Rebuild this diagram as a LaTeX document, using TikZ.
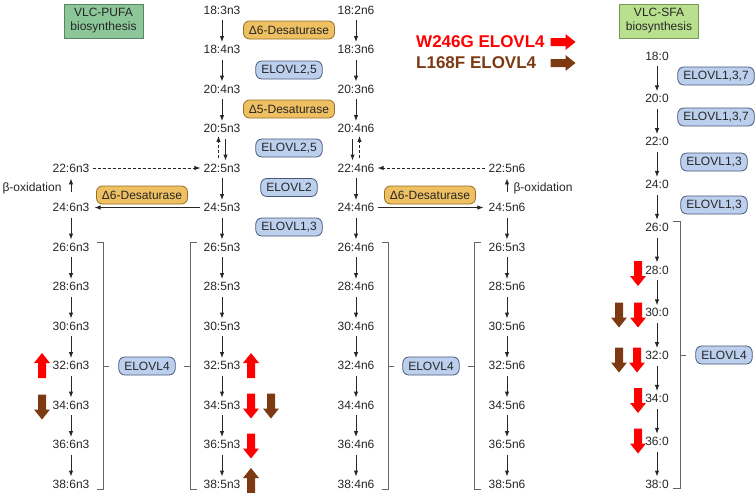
\documentclass[tikz,border=0pt]{standalone}
\usepackage{fontspec}
\setmainfont{Liberation Sans}
\usetikzlibrary{arrows.meta, positioning}
\definecolor{mutred}{RGB}{255,0,0}
\definecolor{mutbrown}{RGB}{125,58,18}
\definecolor{elovlfill}{RGB}{188,208,238}
\definecolor{elovldraw}{RGB}{70,88,120}
\definecolor{desatfill}{RGB}{238,192,98}
\definecolor{desatdraw}{RGB}{150,112,40}
\definecolor{pufafill}{RGB}{140,199,154}
\definecolor{pufadraw}{RGB}{90,130,100}
\definecolor{sfafill}{RGB}{185,224,142}
\definecolor{sfadraw}{RGB}{120,150,90}
\tikzset{
  fa/.style={
    font=\fontsize{12}{14}\selectfont, text=black!85, inner sep=3pt
  },
  enz box/.style={
    rectangle, rounded corners=6pt, line width=0.8pt,
    minimum height=18pt, inner xsep=5.5pt, inner ysep=2pt,
    font=\fontsize{12}{14}\selectfont, text=black!85
  },
  elovl box/.style={enz box, fill=elovlfill, draw=elovldraw},
  desat box/.style={enz box, fill=desatfill, draw=desatdraw},
  title box/.style={
    rectangle, line width=0.8pt, minimum width=79pt, minimum height=34pt,
    inner sep=2pt, font=\fontsize{12}{14}\selectfont, text=black!85
  },
  legend text/.style={
    font=\bfseries\fontsize{17}{20}\selectfont, inner sep=0pt, anchor=west
  },
  chain arrow/.style={
    -{Latex[length=6pt,width=4.5pt]}, line width=0.9pt, draw=black!85,
    shorten <=3pt
  },
  dash arrow/.style={chain arrow, dash pattern=on 3pt off 2pt},
  beta arrow/.style={chain arrow, shorten <=8pt, shorten >=3pt},
  brkt/.style={draw=black!60, line width=1pt},
  pics/fat arrow/.style 2 args={
    code={
      \fill[#2, rotate=#1] (-12.5,-4) -- (2.5,-4) -- (2.5,-8) -- (12.5,0)
        -- (2.5,8) -- (2.5,4) -- (-12.5,4) -- cycle;
    }
  }
}
\begin{document}
\begin{tikzpicture}[x=1pt, y=-1pt, node distance=39.5pt, on grid, align=center]
  \useasboundingbox (0,0) rectangle (756,493);

  % headers
  \node (pufa) [title box, fill=pufafill, draw=pufadraw] at (103.5,21) {VLC-PUFA\\biosynthesis};
  \node (sfa) [title box, fill=sfafill, draw=sfadraw] at (659,21) {VLC-SFA\\biosynthesis};

  % legend
  \node (w246g) [legend text, text=mutred] at (416,42) {W246G ELOVL4};
  \node (l168f) [legend text, text=mutbrown] at (416,63) {L168F ELOVL4};
  \pic at (563,42) {fat arrow={0}{mutred}};
  \pic at (563,63) {fat arrow={0}{mutbrown}};

  % n3 column
  \node (b0) [fa] at (222,10) {18:3n3};
  \node (b1) [fa, below=of b0] {18:4n3};
  \node (b2) [fa, below=of b1] {20:4n3};
  \node (b3) [fa, below=of b2] {20:5n3};
  \node (b4) [fa, below=of b3] {22:5n3};
  \node (b5) [fa, below=of b4] {24:5n3};
  \node (b6) [fa, below=of b5] {26:5n3};
  \node (b7) [fa, below=of b6] {28:5n3};
  \node (b8) [fa, below=of b7] {30:5n3};
  \node (b9) [fa, below=of b8] {32:5n3};
  \node (b10) [fa, below=of b9] {34:5n3};
  \node (b11) [fa, below=of b10] {36:5n3};
  \node (b12) [fa, below=of b11] {38:5n3};

  % n6 column
  \node (c0) [fa] at (356,10) {18:2n6};
  \node (c1) [fa, below=of c0] {18:3n6};
  \node (c2) [fa, below=of c1] {20:3n6};
  \node (c3) [fa, below=of c2] {20:4n6};
  \node (c4) [fa, below=of c3] {22:4n6};
  \node (c5) [fa, below=of c4] {24:4n6};
  \node (c6) [fa, below=of c5] {26:4n6};
  \node (c7) [fa, below=of c6] {28:4n6};
  \node (c8) [fa, below=of c7] {30:4n6};
  \node (c9) [fa, below=of c8] {32:4n6};
  \node (c10) [fa, below=of c9] {34:4n6};
  \node (c11) [fa, below=of c10] {36:4n6};
  \node (c12) [fa, below=of c11] {38:4n6};

  % 6n3 column
  \node (a4) [fa] at (71,168) {22:6n3};
  \node (a5) [fa, below=of a4] {24:6n3};
  \node (a6) [fa, below=of a5] {26:6n3};
  \node (a7) [fa, below=of a6] {28:6n3};
  \node (a8) [fa, below=of a7] {30:6n3};
  \node (a9) [fa, below=of a8] {32:6n3};
  \node (a10) [fa, below=of a9] {34:6n3};
  \node (a11) [fa, below=of a10] {36:6n3};
  \node (a12) [fa, below=of a11] {38:6n3};

  % 5n6 column
  \node (d4) [fa] at (507,168) {22:5n6};
  \node (d5) [fa, below=of d4] {24:5n6};
  \node (d6) [fa, below=of d5] {26:5n3};
  \node (d7) [fa, below=of d6] {28:5n6};
  \node (d8) [fa, below=of d7] {30:5n6};
  \node (d9) [fa, below=of d8] {32:5n6};
  \node (d10) [fa, below=of d9] {34:5n6};
  \node (d11) [fa, below=of d10] {36:5n6};
  \node (d12) [fa, below=of d11] {38:5n6};

  % SFA column
  \node (e0) [fa] at (657,56) {18:0};
  \node (e1) [fa, below=42.8pt of e0] {20:0};
  \node (e2) [fa, below=42.8pt of e1] {22:0};
  \node (e3) [fa, below=42.8pt of e2] {24:0};
  \node (e4) [fa, below=42.8pt of e3] {26:0};
  \node (e5) [fa, below=42.8pt of e4] {28:0};
  \node (e6) [fa, below=42.8pt of e5] {30:0};
  \node (e7) [fa, below=42.8pt of e6] {32:0};
  \node (e8) [fa, below=42.8pt of e7] {34:0};
  \node (e9) [fa, below=42.8pt of e8] {36:0};
  \node (e10) [fa, below=42.8pt of e9] {38:0};

  % enzymes
  \node (d6b) [desat box] at (289,30) {Δ6-Desaturase};
  \node (el25a) [elovl box] at (289,70) {ELOVL2,5};
  \node (d5b) [desat box] at (289,109) {Δ5-Desaturase};
  \node (el25b) [elovl box] at (289,148) {ELOVL2,5};
  \node (el2) [elovl box] at (289,187.5) {ELOVL2};
  \node (el13) [elovl box] at (289,227) {ELOVL1,3};
  \node (d6l) [desat box] at (142,195) {Δ6-Desaturase};
  \node (d6r) [desat box] at (430,195) {Δ6-Desaturase};
  \node (el4l) [elovl box] at (147,366) {ELOVL4};
  \node (el4r) [elovl box] at (431,366) {ELOVL4};
  \node (el137a) [elovl box] at (716,76) {ELOVL1,3,7};
  \node (el137b) [elovl box] at (716,117) {ELOVL1,3,7};
  \node (el13a) [elovl box] at (714,162) {ELOVL1,3};
  \node (el13b) [elovl box] at (714,205) {ELOVL1,3};
  \node (el4s) [elovl box] at (724,355) {ELOVL4};
  \node (betal) [fa] at (32,188) {β-oxidation};
  \node (betar) [fa] at (543,188) {β-oxidation};

  % chains
  \foreach \i/\j in {0/1,1/2,2/3,4/5,5/6,6/7,7/8,8/9,9/10,10/11,11/12}
    \draw [chain arrow] (b\i) -- (b\j);
  \foreach \i/\j in {0/1,1/2,2/3,4/5,5/6,6/7,7/8,8/9,9/10,10/11,11/12}
    \draw [chain arrow] (c\i) -- (c\j);
  \foreach \i/\j in {5/6,6/7,7/8,8/9,9/10,10/11,11/12}
    \draw [chain arrow] (a\i) -- (a\j);
  \foreach \i/\j in {5/6,6/7,7/8,8/9,9/10,10/11,11/12}
    \draw [chain arrow] (d\i) -- (d\j);
  \foreach \i/\j in {0/1,1/2,2/3,3/4,4/5,5/6,6/7,7/8,8/9,9/10}
    \draw [chain arrow] (e\i) -- (e\j);

  \draw [dash arrow] ([xshift=-3.5pt]b4.north) -- ([xshift=-3.5pt]b3.south);
  \draw [chain arrow] ([xshift=3.5pt]b3.south) -- ([xshift=3.5pt]b4.north);
  \draw [chain arrow] ([xshift=-3.5pt]c3.south) -- ([xshift=-3.5pt]c4.north);
  \draw [dash arrow] ([xshift=3.5pt]c4.north) -- ([xshift=3.5pt]c3.south);

  \draw [dash arrow, shorten <=0pt] (a4) -- (b4);
  \draw [dash arrow, shorten <=0pt] (d4) -- (c4);
  \draw [chain arrow, shorten <=0pt, shorten >=2pt] (b5) -- (a5);
  \draw [chain arrow, shorten <=0pt, shorten >=2pt] (c5) -- (d5);
  \draw [beta arrow] (a5) -- (a4);
  \draw [beta arrow] (d5) -- (d4);

  % ELOVL4 brackets
  \draw [brkt] (97,242) -| (103,489) -- (97,489);
  \draw [brkt] (103,366) -- (109,366);
  \draw [brkt] (197,242) -| (190,489) -- (197,489);
  \draw [brkt] (190,366) -- (184,366);
  \draw [brkt] (382,242) -| (388,489) -- (382,489);
  \draw [brkt] (388,366) -- (394,366);
  \draw [brkt] (481,242) -| (474,489) -- (481,489);
  \draw [brkt] (474,366) -- (468,366);
  \draw [brkt] (673,221) -| (680,488) -- (673,488);
  \draw [brkt] (680,355) -- (686,355);

  % mutant changes
  \pic at (42,365.5) {fat arrow={90}{mutred}};
  \pic at (42,407) {fat arrow={-90}{mutbrown}};
  \pic at (251,365.5) {fat arrow={90}{mutred}};
  \pic at (251,406) {fat arrow={-90}{mutred}};
  \pic at (271,406) {fat arrow={-90}{mutbrown}};
  \pic at (251,446) {fat arrow={-90}{mutred}};
  \pic at (251,480.5) {fat arrow={90}{mutbrown}};
  \pic at (638,273.5) {fat arrow={-90}{mutred}};
  \pic at (638,315) {fat arrow={-90}{mutred}};
  \pic at (619,315) {fat arrow={-90}{mutbrown}};
  \pic at (637,360) {fat arrow={-90}{mutred}};
  \pic at (619,360) {fat arrow={-90}{mutbrown}};
  \pic at (638,400.5) {fat arrow={-90}{mutred}};
  \pic at (638,441) {fat arrow={-90}{mutred}};
\end{tikzpicture}
\end{document}
